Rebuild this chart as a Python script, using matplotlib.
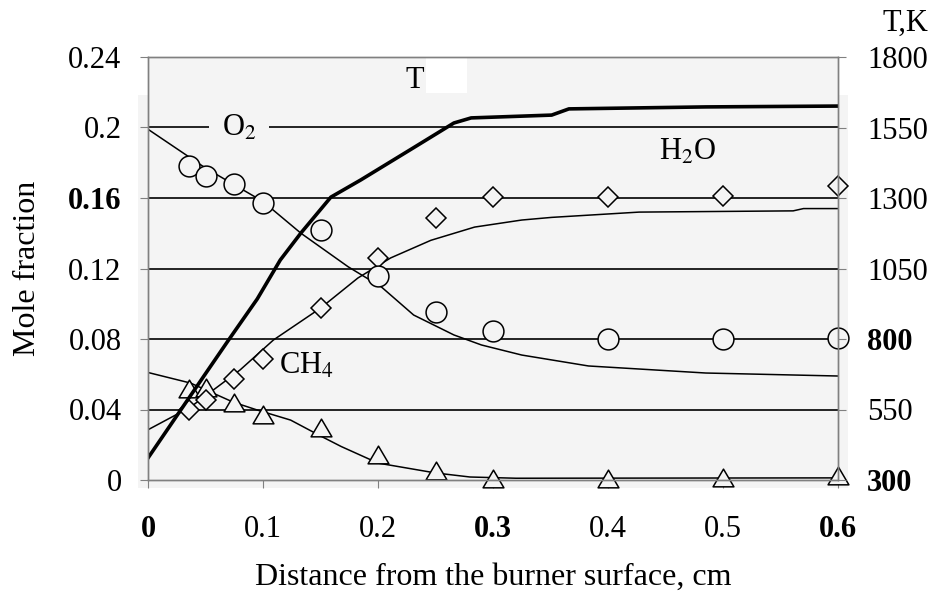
import matplotlib
matplotlib.use("Agg")
import matplotlib.pyplot as plt
from matplotlib.patches import Rectangle
from matplotlib.path import Path

plt.rcParams['font.family'] = ['Liberation Serif', 'DejaVu Serif']
plt.rcParams['mathtext.fontset'] = 'stix'

# ---------------- data ----------------
# Temperature profile (right axis, K)
t_x = [0, 0.05, 0.07, 0.095, 0.115, 0.133, 0.159, 0.185, 0.23, 0.266, 0.281, 0.351, 0.366, 0.485, 0.6]
t_val = [378, 677, 796, 942, 1080, 1176, 1303, 1364, 1476, 1566, 1584, 1594, 1616, 1623, 1626]

# Model curves (left axis, mole fraction)
o2_x = [0, 0.05, 0.1, 0.133, 0.174, 0.203, 0.231, 0.266, 0.29, 0.325, 0.383, 0.485, 0.6]
o2_val = [0.199, 0.177, 0.158, 0.140, 0.121, 0.1095, 0.0936, 0.0823, 0.0766, 0.0709, 0.0647, 0.0607, 0.059]

h2o_x = [0, 0.037, 0.08, 0.109, 0.15, 0.1825, 0.211, 0.246, 0.284, 0.325, 0.351, 0.427, 0.561, 0.57, 0.6]
h2o_val = [0.0285, 0.0414, 0.0624, 0.0794, 0.0975, 0.1146, 0.126, 0.136, 0.1435, 0.1475, 0.149, 0.152, 0.1527, 0.154, 0.154]

ch4_x = [0, 0.037, 0.074, 0.095, 0.124, 0.15, 0.168, 0.2, 0.25, 0.28, 0.32, 0.6]
ch4_val = [0.061, 0.055, 0.0442, 0.0397, 0.034, 0.025, 0.019, 0.0096, 0.004, 0.0017, 0.001, 0.0012]

# Measured points
meas_x = [0.036, 0.05, 0.075, 0.1, 0.15, 0.2, 0.25, 0.3, 0.4, 0.5, 0.6]
o2_meas = [0.178, 0.1725, 0.168, 0.157, 0.1418, 0.1157, 0.0953, 0.0845, 0.080, 0.080, 0.0805]
h2o_meas = [0.040, 0.0454, 0.0573, 0.0686, 0.0975, 0.126, 0.1486, 0.1605, 0.1605, 0.161, 0.167]
ch4_meas = [0.0516, 0.052, 0.0437, 0.0369, 0.0295, 0.0142, 0.0051, 0.0005, 0.0005, 0.001, 0.002]

x_ticks = [0, 0.1, 0.2, 0.3, 0.4, 0.5, 0.6]
x_ticklabels = ['0', '0.1', '0.2', '0.3', '0.4', '0.5', '0.6']
y_ticks = [0, 0.04, 0.08, 0.12, 0.16, 0.2, 0.24]
y_ticklabels = ['0', '0.04', '0.08', '0.12', '0.16', '0.2', '0.24']
t_ticks = [300, 550, 800, 1050, 1300, 1550, 1800]
t_ticklabels = ['300', '550', '800', '1050', '1300', '1550', '1800']

# ---------------- figure ----------------
bg = '#f4f4f4'
fig = plt.figure(figsize=(9.4, 6.05), dpi=100)
fig.patches.append(Rectangle((138 / 940, 1 - 488 / 605), 710 / 940, 393 / 605,
                             transform=fig.transFigure, facecolor=bg,
                             edgecolor='none', zorder=-10))
ax = fig.add_axes([148 / 940, 1 - 480 / 605, 690 / 940, 423 / 605])
ax.set_facecolor(bg)
ax.set_xlim(0, 0.6)
ax.set_ylim(0, 0.24)

ax2 = ax.twinx()
ax2.set_ylim(300, 1800)

# grid
for yv in y_ticks[1:-1]:
    ax.axhline(yv, color='black', lw=1.2, zorder=1)

# model curves
ax.plot(o2_x, o2_val, color='black', lw=1.1, zorder=2)
ax.plot(h2o_x, h2o_val, color='black', lw=1.1, zorder=2)
ax.plot(ch4_x, ch4_val, color='black', lw=1.1, zorder=2)
ax2.plot(t_x, t_val, color='black', lw=2.6, zorder=2)

# measured points
tri = Path([(-1, -0.8), (1, -0.8), (0, 0.9), (-1, -0.8)],
           [Path.MOVETO, Path.LINETO, Path.LINETO, Path.CLOSEPOLY])
ax.plot(meas_x, ch4_meas, linestyle='none', marker=tri, ms=15, mfc=bg, mec='black',
        mew=1.1, clip_on=False, zorder=4)
ax.plot(meas_x, h2o_meas, linestyle='none', marker='D', ms=10.5, mfc=bg, mec='black',
        mew=1.1, clip_on=False, zorder=4)
ax.plot(meas_x, o2_meas, linestyle='none', marker='o', ms=15, mfc=bg, mec='black',
        mew=1.1, clip_on=False, zorder=5)

# labels inside
ax.text((239 - 148) / 690, (480 - 128) / 423, 'O$_2$', transform=ax.transAxes,
        ha='center', va='center', fontsize=22, zorder=6,
        bbox=dict(boxstyle='square,pad=0.4', facecolor=bg, edgecolor='none'))
ax.text((688 - 148) / 690, (480 - 152) / 423, 'H$_2$O', transform=ax.transAxes,
        ha='center', va='center', fontsize=22, zorder=6)
ax.text((306 - 148) / 690, (480 - 366) / 423, 'CH$_4$', transform=ax.transAxes,
        ha='center', va='center', fontsize=22, zorder=6)
ax.add_patch(Rectangle(((426 - 148) / 690, (480 - 93) / 423), 41 / 690, 36 / 423,
                       transform=ax.transAxes, facecolor='white', edgecolor='none',
                       zorder=1.5, clip_on=False))
ax.text((415 - 148) / 690, (480 - 81) / 423, 'T', transform=ax.transAxes,
        ha='center', va='center', fontsize=22, zorder=6)

# spines
for a in (ax, ax2):
    for s in a.spines.values():
        s.set_color('#808080')
        s.set_linewidth(1.0)
        s.set_zorder(6)

# ticks
ax.set_xticks(x_ticks, x_ticklabels)
ax.set_yticks(y_ticks, y_ticklabels)
ax2.set_yticks(t_ticks, t_ticklabels)
ax.tick_params(axis='x', direction='out', length=6, width=0.8, color='#808080',
               pad=19, labelsize=22)
ax.tick_params(axis='y', direction='out', length=6, width=0.8, color='#808080',
               pad=13, labelsize=22)
ax2.tick_params(axis='y', direction='out', length=6, width=0.8, color='#808080',
                pad=15, labelsize=22)

bold_x = {'0', '0.3', '0.6'}
bold_y = {'0.16'}
bold_t = {'300', '800'}
for lab in ax.get_xticklabels():
    if lab.get_text() in bold_x:
        lab.set_fontweight('bold')
for lab in ax.get_yticklabels():
    if lab.get_text() in bold_y:
        lab.set_fontweight('bold')
for lab in ax2.get_yticklabels():
    if lab.get_text() in bold_t:
        lab.set_fontweight('bold')

ax.set_xlabel('Distance from the burner surface, cm', fontsize=23, labelpad=14)
ax.set_ylabel('Mole fraction', fontsize=23)
ax.yaxis.set_label_coords(-0.153, 0.5)
fig.text(905 / 940, 1 - 23 / 605, 'T,K', ha='center', va='center', fontsize=22)

fig.savefig('out.png', dpi=100)
